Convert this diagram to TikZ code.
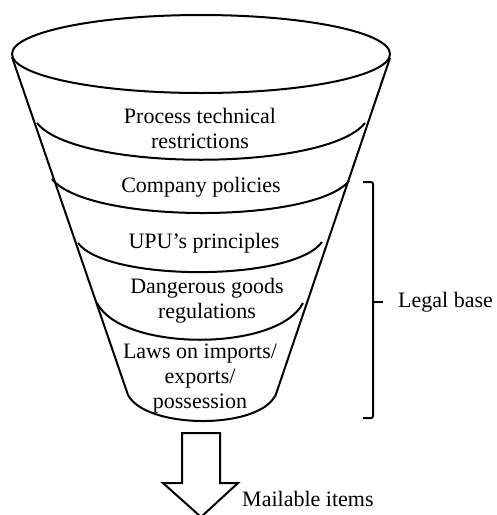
\documentclass[tikz,border=0pt]{standalone}
\usepackage{fontspec}
\setmainfont{Liberation Serif}
\usetikzlibrary{positioning,calc}
\tikzset{
  funnel/.style={draw=black,line width=2pt,line join=round},
  layer/.style={font=\fontsize{22}{25}\selectfont,inner sep=0pt,align=center},
  bracket/.style={draw=black,line width=2pt,rounded corners=2pt},
  bigarrow/.style={draw=black,line width=2pt,fill=white,line join=miter},
}

\begin{document}
\begin{tikzpicture}[x=1pt,y=-1pt]
\useasboundingbox (0,0) rectangle (497,515);
% funnel body
\draw[funnel] (201,54) ellipse[x radius=189,y radius=39];
\draw[funnel] (12,57) -- (128,395);
\draw[funnel] (390,58) -- (275,397);
% borders between the layers
\draw[funnel] (37,123) .. controls (76,172) and (326,172) .. (365,123);
\draw[funnel] (52,179) .. controls (88,224) and (313,224) .. (349,181);
\draw[funnel] (78,243) .. controls (107,282) and (293,282) .. (322,242);
\draw[funnel] (97,303) .. controls (122,352) and (278,352) .. (303,303);
\draw[funnel] (128,395) .. controls (146,429) and (257,430) .. (275,396);
% layer labels
\node[layer] (ptr)  at (200,128) {Process technical\\restrictions};
\node[layer] (cpol) at (201,187) {Company policies};
\node[layer] (upu)  at (204,243) {UPU’s principles};
\node[layer] (dgr)  at (207,301) {Dangerous goods\\regulations};
\node[layer] (laws) at (200,379) {Laws on imports/\\exports/\\possession};
% bracket for the legal part
\draw[bracket] (363,182) -- (373,182) -- (373,418) -- (363,418);
\coordinate (tick) at (383,302);
\draw[bracket] (373,302) -- (tick);
\node[layer,right=15pt of tick] (legal) {Legal base};
% output arrow
\draw[bigarrow] (182,433) -- (220,433) -- (220,483) -- (238,483) -- (201,517)
  -- (163,483) -- (182,483) -- cycle;
\node[layer,anchor=west] (mail) at (242,499) {Mailable items};
\end{tikzpicture}
\end{document}
